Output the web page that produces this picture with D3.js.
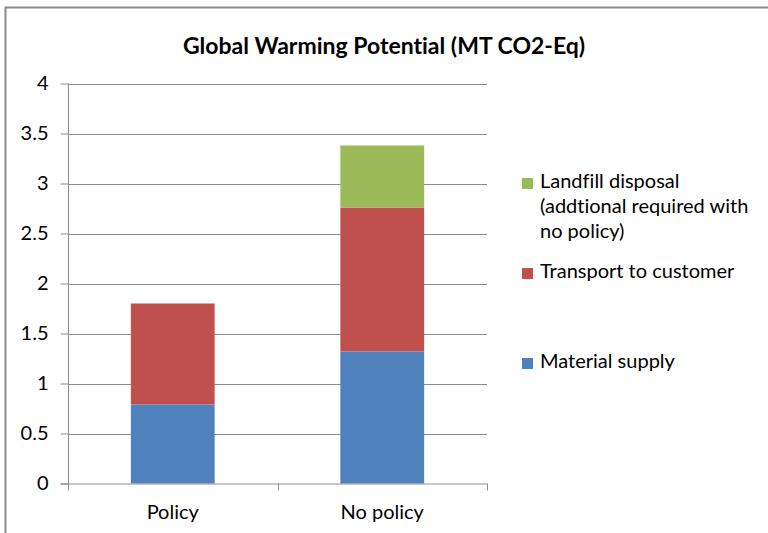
<!DOCTYPE html>
<html>
<head>
<meta charset="utf-8">
<script src="https://cdn.jsdelivr.net/npm/d3@7"></script>
<style>
  html, body { margin: 0; padding: 0; background: #fff; }
  svg { display: block; }
  text { font-family: Lato, "Open Sans", sans-serif; fill: #000; font-variant-ligatures: none; }
</style>
</head>
<body>
<svg id="chart" width="768" height="533"></svg>
<script>
// Scenarios on the x axis
const categories = ["Policy", "No policy"];

// Stack components, bottom to top (MT CO2-Eq)
const materialSupply = [0.79, 1.32];
const transportToCustomer = [1.01, 1.44];
const landfillDisposal = [0, 0.62];

const yTicks = [0, 0.5, 1, 1.5, 2, 2.5, 3, 3.5, 4];
const yTickLabels = ["0", "0.5", "1", "1.5", "2", "2.5", "3", "3.5", "4"];

const seriesNames = ["Material supply", "Transport to customer", "Landfill disposal"];
const legendLines = [
  ["Landfill disposal", "(addtional required with", "no policy)"],
  ["Transport to customer"],
  ["Material supply"]
];
const colors = ["#4F81BD", "#C0504D", "#9BBB59"];

const rows = categories.map((c, i) => ({
  category: c,
  "Material supply": materialSupply[i],
  "Transport to customer": transportToCustomer[i],
  "Landfill disposal": landfillDisposal[i]
}));

const svg = d3.select("#chart");

// outer chart frame
svg.append("path")
  .attr("d", "M5.5,540 L5.5,7.5 L775,7.5")
  .attr("fill", "none")
  .attr("stroke", "#8a8a8a")
  .attr("stroke-width", 2);

const plot = { left: 68, right: 487, top: 83.5, bottom: 483.5 };

const x = d3.scaleBand()
  .domain(categories)
  .range([plot.left, plot.right])
  .paddingInner(0.6)
  .paddingOuter(0.3);

const y = d3.scaleLinear().domain([0, 4]).range([plot.bottom, plot.top]);

// gridlines
svg.append("g")
  .selectAll("line")
  .data(yTicks.filter(t => t > 0))
  .join("line")
  .attr("x1", plot.left).attr("x2", plot.right)
  .attr("y1", d => Math.round(y(d)) + 0.5).attr("y2", d => Math.round(y(d)) + 0.5)
  .attr("stroke", "#8c8c8c").attr("stroke-width", 1);

// stacked bars
const stack = d3.stack().keys(seriesNames);
const layers = stack(rows);

svg.append("g")
  .selectAll("g")
  .data(layers)
  .join("g")
  .attr("fill", (d, i) => colors[i])
  .selectAll("rect")
  .data(d => d.filter(s => s[1] - s[0] > 0))
  .join("rect")
  .attr("x", d => x(d.data.category))
  .attr("width", x.bandwidth())
  .attr("y", d => y(d[1]))
  .attr("height", d => y(d[0]) - y(d[1]));

// y axis
const yAxis = svg.append("g")
  .attr("transform", `translate(${plot.left + 0.5},0)`)
  .call(d3.axisLeft(y).tickValues(yTicks).tickFormat((d, i) => yTickLabels[i]).tickSize(8).tickPadding(12));
yAxis.select(".domain").attr("stroke", "#8c8c8c").attr("d", `M-8,${plot.bottom + 0.5}H0V${plot.top}`);
yAxis.selectAll(".tick line").attr("stroke", "#8c8c8c");
yAxis.selectAll(".tick text")
  .style("font-family", "Lato, 'Open Sans', sans-serif")
  .style("font-size", "20px").attr("fill", "#000");

// x axis with boundary ticks between categories
const xAxisG = svg.append("g");
xAxisG.append("line")
  .attr("x1", plot.left).attr("x2", plot.right + 0.5)
  .attr("y1", plot.bottom + 0.5).attr("y2", plot.bottom + 0.5)
  .attr("stroke", "#8c8c8c");
const boundaries = [plot.left, (plot.left + plot.right) / 2, plot.right];
xAxisG.selectAll("line.bt")
  .data(boundaries)
  .join("line")
  .attr("class", "bt")
  .attr("x1", d => Math.round(d) + 0.5).attr("x2", d => Math.round(d) + 0.5)
  .attr("y1", plot.bottom).attr("y2", plot.bottom + 7)
  .attr("stroke", "#8c8c8c");
xAxisG.selectAll("text")
  .data(categories)
  .join("text")
  .attr("x", d => x(d) + x.bandwidth() / 2)
  .attr("y", 519)
  .attr("text-anchor", "middle")
  .style("font-size", "20px")
  .text(d => d);

// title
svg.append("text")
  .attr("x", 384)
  .attr("y", 54)
  .attr("text-anchor", "middle")
  .style("font-size", "23px")
  .style("font-weight", "bold")
  .text("Global Warming Potential (MT CO2-Eq)");

// legend (top entry is the top of the stack)
const legendY = [188, 278, 368];
const legendColorIdx = [2, 1, 0];
const legend = svg.append("g");
legendLines.forEach((lines, k) => {
  legend.append("rect")
    .attr("x", 522).attr("y", legendY[k] - 10)
    .attr("width", 11).attr("height", 11)
    .attr("fill", colors[legendColorIdx[k]]);
  const t = legend.append("text")
    .attr("x", 540).attr("y", legendY[k])
    .style("font-size", "20px");
  lines.forEach((ln, j) => {
    t.append("tspan").attr("x", 540).attr("y", legendY[k] + j * 25).text(ln);
  });
});
</script>
</body>
</html>
